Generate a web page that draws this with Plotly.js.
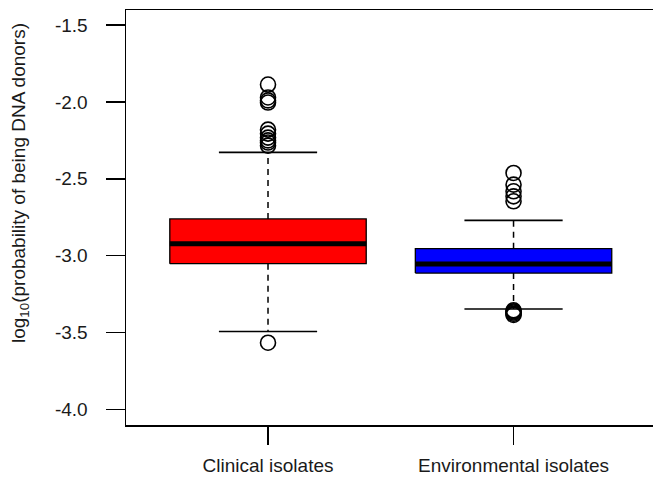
<!DOCTYPE html>
<html>
<head>
<meta charset="utf-8">
<script src="https://cdn.plot.ly/plotly-3.0.1.min.js"></script>
<style>html,body{margin:0;padding:0;background:#fff;}</style>
</head>
<body>
<div id="chart" style="width:653px;height:477px;"></div>
<script>
// ---- data ----
var categories = ["Clinical isolates", "Environmental isolates"];
var boxColors = ["#ff0000", "#0000ff"];
var q1 = [-3.052, -3.113];
var medians = [-2.922, -3.054];
var q3 = [-2.761, -2.954];
var lowerWhisker = [-3.493, -3.347];
var upperWhisker = [-2.328, -2.770];
var outliersClinical = [-1.887, -1.971, -1.990, -2.004, -2.180, -2.206, -2.232, -2.250, -2.264, -2.284, -3.566];
var outliersEnvironmental = [-2.462, -2.538, -2.581, -2.614, -2.646, -3.355, -3.362, -3.369, -3.377, -3.385];
var outliers = [outliersClinical, outliersEnvironmental];
var yTicks = [-4.0, -3.5, -3.0, -2.5, -2.0, -1.5];
var yTickText = ["-4.0", "-3.5", "-3.0", "-2.5", "-2.0", "-1.5"];

// ---- styles ----
var BOX_HALF = 0.4, CAP_HALF = 0.2;
var traces = [];
categories.forEach(function (cat, i) {
  var c = i + 1;
  // box
  traces.push({
    type: "scatter", mode: "lines",
    x: [c - BOX_HALF, c + BOX_HALF, c + BOX_HALF, c - BOX_HALF, c - BOX_HALF],
    y: [q1[i], q1[i], q3[i], q3[i], q1[i]],
    fill: "toself", fillcolor: boxColors[i],
    line: {color: "#000", width: 1.3}, hoverinfo: "skip", showlegend: false
  });
  // whiskers (dashed)
  traces.push({
    type: "scatter", mode: "lines",
    x: [c, c, null, c, c],
    y: [q3[i], upperWhisker[i], null, q1[i], lowerWhisker[i]],
    line: {color: "#000", width: 1.5, dash: "6px,5px"}, hoverinfo: "skip", showlegend: false
  });
  // caps
  traces.push({
    type: "scatter", mode: "lines",
    x: [c - CAP_HALF, c + CAP_HALF, null, c - CAP_HALF, c + CAP_HALF],
    y: [upperWhisker[i], upperWhisker[i], null, lowerWhisker[i], lowerWhisker[i]],
    line: {color: "#000", width: 1.6}, hoverinfo: "skip", showlegend: false
  });
  // median
  traces.push({
    type: "scatter", mode: "lines",
    x: [c - BOX_HALF, c + BOX_HALF],
    y: [medians[i], medians[i]],
    line: {color: "#000", width: 5}, hoverinfo: "skip", showlegend: false
  });
  // outliers
  traces.push({
    type: "scatter", mode: "markers",
    x: outliers[i].map(function () { return c; }),
    y: outliers[i],
    marker: {symbol: "circle-open", size: 15, color: "#000", line: {color: "#000", width: 1.6}},
    hoverinfo: "y", showlegend: false
  });
});

var font = {family: "Liberation Sans, Arial, Helvetica, sans-serif", size: 19, color: "#1a1a1a"};

var layout = {
  width: 653, height: 477,
  margin: {l: 126, r: 0, t: 10, b: 52, pad: 0},
  paper_bgcolor: "#fff", plot_bgcolor: "#fff",
  font: font,
  showlegend: false,
  xaxis: {
    range: [0.4216, 2.568],
    tickmode: "array", tickvals: [1, 2], ticktext: categories,
    ticks: "outside", ticklen: 18, tickwidth: 1.5, tickcolor: "#000",
    showline: true, linecolor: "#000", linewidth: 1.5, mirror: true,
    showgrid: false, zeroline: false, fixedrange: true,
    ticklabelstandoff: 5,
    tickfont: font
  },
  yaxis: {
    range: [-4.101, -1.402],
    tickmode: "array", tickvals: yTicks, ticktext: yTickText,
    ticks: "outside", ticklen: 19, tickwidth: 1.5, tickcolor: "#000",
    showline: true, linecolor: "#000", linewidth: 1.5, mirror: false,
    showgrid: false, zeroline: false, fixedrange: true,
    ticklabelstandoff: 14,
    tickfont: font
  },
  annotations: [{
    text: "log<sub>10</sub>(probability of being DNA donors)",
    xref: "paper", yref: "paper",
    x: (20 - 126) / 527, y: (425 - 183) / 415,
    xanchor: "center", yanchor: "middle",
    textangle: -90, showarrow: false,
    font: font
  }]
};

Plotly.newPlot("chart", traces, layout, {displayModeBar: false, staticPlot: true});
</script>
</body>
</html>
